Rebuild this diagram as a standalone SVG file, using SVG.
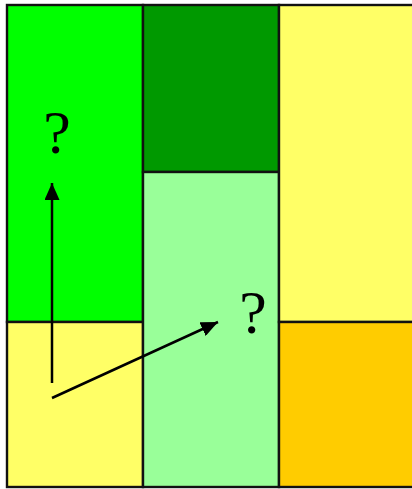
<svg xmlns="http://www.w3.org/2000/svg" width="412" height="489" viewBox="0 0 412 489">
<style>
.cell{stroke:#111;stroke-width:2.4}
.q{font-family:"Liberation Serif",serif;font-size:62px;fill:#000;text-anchor:middle}
.conn{stroke:#000;stroke-width:2.5;fill:none}
</style>
<defs>
<marker id="ah2" markerWidth="17" markerHeight="15" refX="17" refY="7.5" orient="auto" markerUnits="userSpaceOnUse">
<path d="M0,0 L17,7.5 L0,15 z" fill="#000"/>
</marker>
</defs>
<rect width="412" height="489" fill="#fff"/>
<g id="left-top"><rect class="cell" x="7" y="5" width="136" height="317" fill="#00FF00"/></g>
<g id="left-bottom"><rect class="cell" x="7" y="322" width="136" height="165" fill="#FFFF66"/></g>
<g id="mid-top"><rect class="cell" x="143" y="5" width="136" height="167" fill="#009900"/></g>
<g id="mid-bottom"><rect class="cell" x="143" y="172" width="136" height="315" fill="#99FF99"/></g>
<g id="right-top"><rect class="cell" x="279" y="5" width="136" height="317" fill="#FFFF66"/></g>
<g id="right-bottom"><rect class="cell" x="279" y="322" width="136" height="165" fill="#FFCC00"/></g>
<g id="q1"><text class="q" x="57" y="153">?</text></g>
<g id="q2"><text class="q" x="253" y="333">?</text></g>
<g id="connectors">
<line class="conn" x1="52" y1="383" x2="52" y2="183" marker-end="url(#ah2)"/>
<line class="conn" x1="52" y1="398" x2="218" y2="322" marker-end="url(#ah2)"/>
</g>
</svg>
